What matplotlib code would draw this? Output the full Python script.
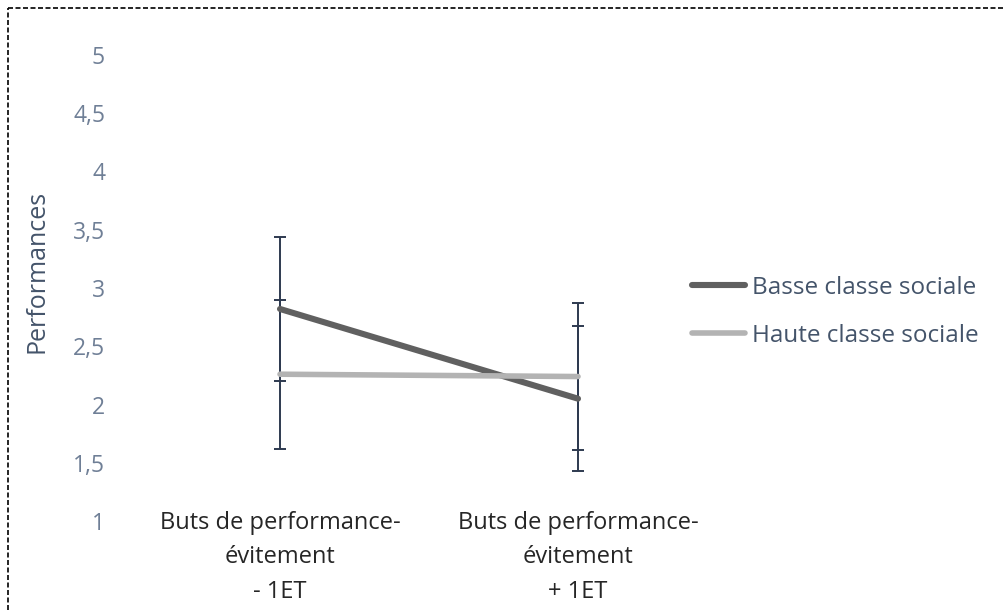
import matplotlib
matplotlib.use('Agg')
import matplotlib.pyplot as plt
from matplotlib.lines import Line2D

# data
categories = ['Buts de performance-\névitement\n- 1ET', 'Buts de performance-\névitement\n+ 1ET']
series_names = ['Basse classe sociale', 'Haute classe sociale']
basse = [2.82, 2.05]
haute = [2.26, 2.24]
basse_err = [0.62, 0.62]
haute_err = [0.64, 0.63]
yticks = [1, 1.5, 2, 2.5, 3, 3.5, 4, 4.5, 5]
ytick_labels = ['1', '1,5', '2', '2,5', '3', '3,5', '4', '4,5', '5']

FONT = 'Open Sans'
LABEL_COL = '#44546A'
TICK_COL = '#6F7F96'
ERR_COL = '#2E3A50'

plt.rcParams['font.family'] = [FONT, 'DejaVu Sans']

fig = plt.figure(figsize=(10.04, 6.10), dpi=100)
ax = fig.add_axes([131 / 1004, 89 / 610, 596 / 1004, 466 / 610])

x = list(range(len(categories)))
ax.plot(x, basse, color='#606060', lw=4.4, solid_capstyle='round', zorder=3,
        label=series_names[0])
ax.plot(x, haute, color='#b3b3b3', lw=4.0, solid_capstyle='round', zorder=3,
        label=series_names[1])
ax.errorbar(x, basse, yerr=basse_err, fmt='none', ecolor=ERR_COL, elinewidth=1.4,
            capsize=4.5, capthick=1.4, zorder=2)
ax.errorbar(x, haute, yerr=haute_err, fmt='none', ecolor=ERR_COL, elinewidth=1.4,
            capsize=4.5, capthick=1.4, zorder=2)

ax.set_xlim(-0.5, 1.5)
ax.set_ylim(1, 5)
ax.set_yticks(yticks)
ax.set_yticklabels(ytick_labels, color=TICK_COL, fontsize=16.5)
ax.set_xticks(x)
ax.set_xticklabels(categories, color='#262626', fontsize=17, linespacing=1.6)
ax.tick_params(axis='x', length=0, pad=-7.5)
ax.tick_params(axis='y', length=0, pad=18.7)
for s in ax.spines.values():
    s.set_visible(False)

ax.set_ylabel('Performances', color=LABEL_COL, fontsize=18)
ax.yaxis.set_label_coords(-0.136, 0.536)

leg = ax.legend(loc='center left', bbox_to_anchor=(0.941, 0.449), frameon=False,
                fontsize=17.5, handlelength=2.18, handletextpad=0.29, labelspacing=1.0,
                borderpad=0, borderaxespad=0)
for t in leg.get_texts():
    t.set_color(LABEL_COL)

# dashed border (only top and left visible in the crop)
fig.add_artist(Line2D([8 / 1004, 8 / 1004], [0, 1 - 8 / 610], transform=fig.transFigure,
                      color='black', lw=1.2, ls=(0, (3, 1.5))))
fig.add_artist(Line2D([8 / 1004, 1], [1 - 8 / 610, 1 - 8 / 610], transform=fig.transFigure,
                      color='black', lw=1.2, ls=(0, (3, 1.5))))

fig.savefig('out.png', dpi=100)
